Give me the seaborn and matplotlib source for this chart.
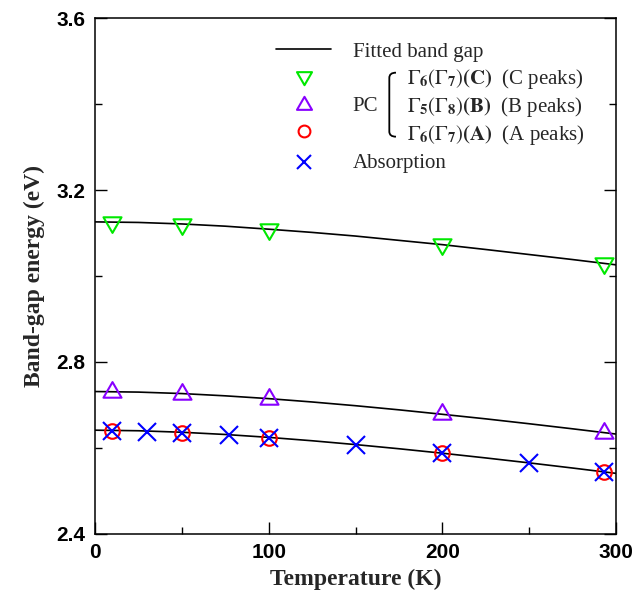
import numpy as np
import pandas as pd
import matplotlib
matplotlib.use("Agg")
import matplotlib.pyplot as plt
from matplotlib.path import Path
from matplotlib.patches import PathPatch
from matplotlib.lines import Line2D
import seaborn as sns

# ---------------- data ----------------
T_pc = [10, 50, 100, 200, 293]
E_C = [3.125, 3.120, 3.109, 3.074, 3.030]
E_B = [2.729, 2.726, 2.7145, 2.678, 2.634]
E_A = [2.639, 2.634, 2.6235, 2.587, 2.543]

T_abs = [10, 30, 50, 77, 100, 150, 200, 250, 293]
E_abs = [2.639, 2.637, 2.634, 2.630, 2.622, 2.6065, 2.587, 2.564, 2.543]

T_fit = [0, 25, 50, 75, 100, 125, 150, 175, 200, 225, 250, 275, 300]
fit_C = [3.126, 3.1247, 3.1212, 3.116, 3.109, 3.1015, 3.093, 3.083, 3.073, 3.0617, 3.050, 3.0383, 3.026]
fit_B = [2.731, 2.7297, 2.7263, 2.721, 2.7145, 2.7067, 2.698, 2.6884, 2.678, 2.6674, 2.656, 2.6442, 2.632]
fit_A = [2.641, 2.6397, 2.6362, 2.631, 2.6243, 2.6164, 2.6075, 2.5978, 2.5874, 2.5764, 2.5649, 2.5529, 2.5405]

x_ticks = [0, 100, 200, 300]
y_ticks = [2.4, 2.8, 3.2, 3.6]

GREEN = "#00e800"
PURPLE = "#8800ff"
RED = "#ff0000"
BLUE = "#0000ff"

# ---------------- style ----------------
sns.set_theme(style="ticks")
plt.rcParams["font.family"] = ["Liberation Sans", "DejaVu Sans"]
plt.rcParams["mathtext.fontset"] = "stix"

# triangle markers centred at their centroid
s3 = np.sqrt(3) / 2
tri_up = Path([(0, 1), (-s3, -0.5), (s3, -0.5), (0, 1)],
              [Path.MOVETO, Path.LINETO, Path.LINETO, Path.CLOSEPOLY])
tri_down = Path([(0, -1), (-s3, 0.5), (s3, 0.5), (0, -1)],
                [Path.MOVETO, Path.LINETO, Path.LINETO, Path.CLOSEPOLY])

fig = plt.figure(figsize=(6.44, 6.0), dpi=100)
ax = fig.add_axes([95 / 644, 1 - 533.7 / 600, 521 / 644, 515.4 / 600])

# fitted curves
for fit in (fit_C, fit_B, fit_A):
    sns.lineplot(x=T_fit, y=fit, ax=ax, color="black", linewidth=1.2, zorder=2)

def pts(x, y, marker, ms, color):
    sns.lineplot(x=x, y=y, ax=ax, marker=marker, markersize=ms, linestyle="none",
                 markerfacecolor="none", markeredgecolor=color, markeredgewidth=1.5,
                 color=color, zorder=3)

pts(T_pc, E_C, tri_down, 15, GREEN)
pts(T_pc, E_B, tri_up, 15, PURPLE)
pts(T_pc, E_A, "o", 10.5, RED)
pts(T_abs, E_abs, "x", 13, BLUE)

ax.set_xlim(0, 300)
ax.set_ylim(2.4, 3.6)
ax.set_xticks(x_ticks)
ax.set_yticks(y_ticks)
ax.set_xticks([50, 150, 250], minor=True)
ax.set_yticks([2.6, 3.0, 3.4], minor=True)
ax.set_xticklabels([str(v) for v in x_ticks], fontweight="bold", fontsize=15,
                   family="Liberation Sans")
ax.set_yticklabels([f"{v:.1f}" for v in y_ticks], fontweight="bold", fontsize=15,
                   family="Liberation Sans")
ax.tick_params(which="major", direction="in", length=8.5, width=1.0, colors="black")
ax.tick_params(which="minor", direction="in", length=4.8, width=1.0, colors="black")
ax.tick_params(axis="x", which="major", pad=6.5)
ax.tick_params(axis="y", which="major", pad=7)
ax.tick_params(axis="y", which="both", right=True)
for sp in ax.spines.values():
    sp.set_visible(True)
    sp.set_linewidth(1.1)
    sp.set_color("black")

ax.set_xlabel("Temperature (K)", family="Liberation Serif", fontweight="bold",
              fontsize=17, labelpad=5)
ax.set_ylabel("Band-gap energy (eV)", family="Liberation Serif", fontweight="bold",
              fontsize=17, labelpad=8)

# ---------------- manual legend ----------------
tr = ax.transAxes
ax.add_line(Line2D([0.3474, 0.453], [0.9404, 0.9404], transform=tr, color="black",
                   linewidth=1.2, clip_on=False))
mx = 0.4012
for y, m, ms, c in [(0.8871, tri_down, 12.5, GREEN), (0.8319, tri_up, 12.5, PURPLE),
                    (0.7810, "o", 8.5, RED), (0.7207, "x", 10.5, BLUE)]:
    ax.add_line(Line2D([mx], [y], transform=tr, marker=m, markersize=ms,
                       markerfacecolor="none", markeredgecolor=c, markeredgewidth=1.5,
                       linestyle="none", clip_on=False))

lfont = dict(family="Liberation Serif", fontsize=15, va="baseline", ha="left",
             transform=tr)
ax.text(0.4946, 0.9255, "Fitted band gap", **lfont)
ax.text(0.4946, 0.8201, "PC", **lfont)
ax.text(0.4946, 0.7101, "Absorption", **lfont)
ax.text(0.5983, 0.8725, r"$\Gamma_{\mathbf{6}}(\Gamma_{\mathbf{7}})\mathbf{(C)}$  (C peaks)", **lfont)
ax.text(0.5983, 0.8188, r"$\Gamma_{\mathbf{5}}(\Gamma_{\mathbf{8}})\mathbf{(B)}$  (B peaks)", **lfont)
ax.text(0.5983, 0.7638, r"$\Gamma_{\mathbf{6}}(\Gamma_{\mathbf{7}})\mathbf{(A)}$  (A peaks)", **lfont)

# bracket
xl, xr, yt, yb = 0.5649, 0.5777, 0.8945, 0.7703
r = 0.010
verts = [(xr, yt), (xl, yt), (xl, yt - r), (xl, yb + r), (xl, yb), (xr, yb)]
codes = [Path.MOVETO, Path.CURVE3, Path.CURVE3, Path.LINETO, Path.CURVE3, Path.CURVE3]
ax.add_patch(PathPatch(Path(verts, codes), transform=tr, facecolor="none",
                       edgecolor="black", linewidth=1.3, clip_on=False))

fig.savefig("out.png", dpi=100)
